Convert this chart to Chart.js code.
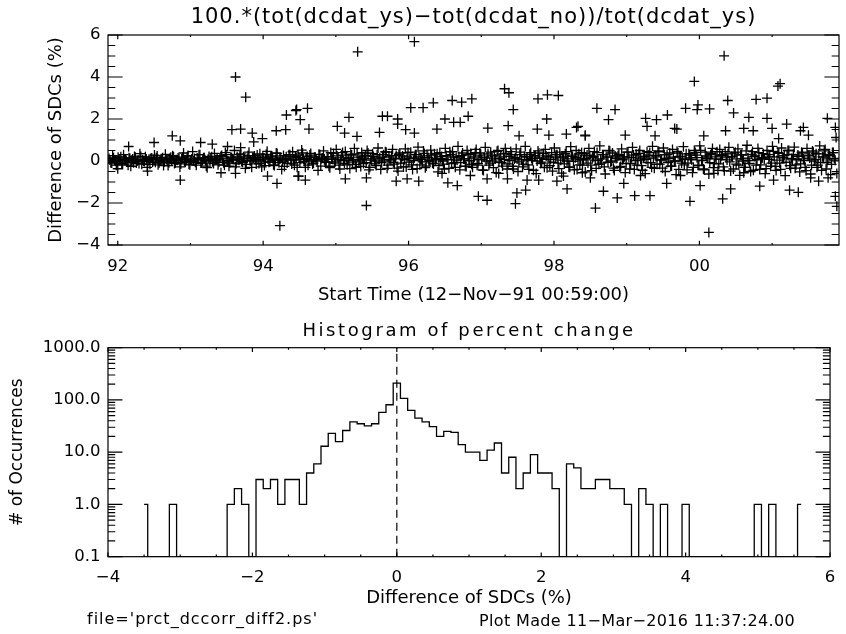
<!DOCTYPE html>
<html>
<head>
<meta charset="utf-8">
<script src="https://cdn.jsdelivr.net/npm/chart.js@4.4.1/dist/chart.umd.min.js"></script>
<style>
  html, body { margin: 0; padding: 0; background: #fff; }
  #wrap { position: relative; width: 846px; height: 634px; }
  canvas { position: absolute; left: 0; }
  #diffChart { top: 0; }
  #histChart { top: 310px; }
</style>
</head>
<body>
<div id="wrap">
  <canvas id="diffChart" width="846" height="310"></canvas>
  <canvas id="histChart" width="846" height="324"></canvas>
</div>
<script>
// ---- top panel: percent difference vs start time (years, 19xx) ----
const timeMajorTicks = [92, 94, 96, 98, 100];
const timeTickLabels = ["92", "94", "96", "98", "00"];
const timeMinorTicks = [93, 95, 97, 99, 101];
const diffMajorTicks = [-4, -2, 0, 2, 4, 6];
const diffTickLabels = ["\u22124", "\u22122", "0", "2", "4", "6"];
const diffMinorTicks = [-3.5, -3, -2.5, -1.5, -1, -0.5, 0.5, 1, 1.5, 2.5, 3, 3.5, 4.5, 5, 5.5];

// regular sampling cadence of the dense band (two interleaved runs)
const sampleStart = 91.88;
const sampleStep = 0.025;
const bandDiffs = [
  0.12,-0.08,0.25,0.05,-0.2,0.18,0.02,-0.12,0.3,0.08,-0.05,0.15,-0.25,0.1,0.22,-0.1,0.05,0.35,-0.15,0.0,
  0.2,-0.3,0.08,0.12,-0.05,0.28,0.15,-0.18,0.02,0.1,-0.22,0.32,0.05,-0.08,0.18,0.25,-0.12,0.06,0.14,-0.28,
  0.1,0.38,-0.06,0.2,-0.15,0.04,0.45,0.12,-0.2,0.08,0.3,-0.1,0.16,0.02,-0.32,0.22,0.1,-0.04,0.36,0.06,
  -0.18,0.14,0.26,-0.08,0.4,0.02,-0.25,0.18,0.1,0.5,-0.12,0.06,0.3,-0.02,0.2,-0.35,0.12,0.42,0.0,0.16,
  0.24,-0.14,0.08,0.34,-0.28,0.15,0.05,0.46,-0.06,0.2,0.12,-0.22,0.38,0.02,0.1,-0.4,0.26,0.08,-0.1,0.3,
  0.05,0.44,-0.2,0.16,0.28,-0.08,0.52,0.1,-0.3,0.22,0.0,0.36,-0.14,0.18,0.06,-0.45,0.3,0.12,0.48,-0.04,
  0.2,-0.25,0.4,0.08,-0.1,0.55,0.15,-0.38,0.28,0.02,0.45,-0.18,0.12,0.32,-0.05,0.6,-0.3,0.18,0.06,0.4,
  -0.12,0.25,0.5,-0.42,0.1,0.35,0.0,-0.22,0.62,0.15,-0.08,0.3,0.44,-0.35,0.2,0.05,0.55,-0.15,0.26,-0.48,
  0.38,0.1,-0.28,0.58,0.2,-0.05,0.42,-0.4,0.15,0.3,0.66,-0.18,0.08,0.48,-0.32,0.24,0.0,0.52,-0.1,0.34,
  0.12,-0.52,0.4,0.22,-0.15,0.6,0.05,-0.35,0.3,0.45,-0.08,0.18,0.7,-0.42,0.26,0.1,-0.25,0.5,0.02,0.36,
  -0.3,0.2,0.55,-0.12,0.38,0.08,-0.45,0.65,0.15,-0.2,0.42,0.0,0.28,-0.55,0.5,0.12,-0.08,0.34,0.6,-0.38,
  0.22,0.45,-0.25,0.1,0.58,-0.5,0.3,0.05,-0.15,0.7,0.18,-0.4,0.4,0.02,0.25,-0.6,0.48,0.14,-0.05,0.36,
  0.55,-0.32,0.2,0.08,-0.48,0.62,0.3,-0.1,0.42,-0.58,0.15,0.35,0.0,-0.28,0.68,0.22,-0.42,0.5,0.1,-0.18,
  0.4,0.05,-0.52,0.28,0.6,-0.2,0.16,0.45,-0.35,0.02,0.72,-0.1,0.3,-0.62,0.2,0.5,-0.05,0.38,-0.45,0.12,
  0.25,-0.3,0.58,0.1,-0.55,0.42,0.18,-0.12,0.65,-0.4,0.32,0.04,0.5,-0.22,0.15,-0.6,0.44,0.28,-0.08,0.7,
  -0.35,0.2,0.48,-0.15,0.06,0.62,-0.5,0.3,0.12,-0.25,0.55,0.0,-0.65,0.38,0.22,-0.1,0.68,0.08,-0.42,0.35,
  0.15,-0.55,0.5,0.28,-0.2,0.72,0.04,-0.38,0.42,0.18,-0.62,0.3,0.6,-0.12,0.1,-0.45,0.55,0.25,-0.28,0.45,
  0.05,0.65,-0.48,0.2,0.38,-0.15,0.58,-0.68,0.3,0.1,-0.3,0.75,0.02,-0.5,0.45,0.22,-0.2,0.6,-0.4,0.12,
  0.35,-0.6,0.5,0.08,-0.25,0.7,0.2,-0.45,0.4,-0.1,0.62,0.15,-0.7,0.3,0.5,-0.35,0.05,0.66,-0.18,0.28,
  -0.52,0.42,0.1,-0.3,0.6,0.24,-0.62,0.48,0.0,0.35,-0.2,0.72,-0.45,0.18,0.55,-0.08,0.32,-0.65,0.4,0.12
];
const bandDiffsB = [
  0.05,-0.1,0.15,0.0,-0.05,0.1,0.2,-0.15,0.08,0.02,-0.2,0.12,0.04,-0.08,0.18,0.0,-0.12,0.22,0.06,-0.02,
  0.1,0.0,-0.16,0.14,0.06,-0.06,0.24,-0.1,0.02,0.16,-0.04,0.08,-0.22,0.12,0.0,0.2,-0.08,0.04,0.1,-0.14,
  0.18,-0.02,0.06,0.26,-0.18,0.1,0.0,-0.06,0.14,0.3,-0.1,0.04,0.16,-0.24,0.08,0.02,0.2,-0.12,0.06,0.12,
  -0.05,0.22,0.1,-0.2,0.3,0.0,-0.1,0.16,0.08,-0.28,0.2,0.04,0.34,-0.06,0.12,-0.16,0.26,0.02,-0.3,0.14,
  0.08,0.28,-0.12,0.0,0.18,-0.22,0.32,0.1,-0.04,0.24,-0.18,0.06,0.36,-0.08,0.14,0.0,-0.26,0.2,0.1,0.3,
  -0.14,0.04,0.22,-0.3,0.16,0.08,0.38,-0.02,0.12,-0.2,0.28,0.06,-0.1,0.18,0.0,0.32,-0.24,0.14,0.06,-0.06,
  0.2,-0.32,0.1,0.36,-0.04,0.24,-0.2,0.06,0.4,-0.12,0.16,0.02,-0.36,0.28,0.08,-0.16,0.34,0.0,-0.26,0.2,
  0.12,-0.08,0.38,-0.3,0.04,0.22,-0.14,0.3,0.1,-0.4,0.18,0.0,0.42,-0.2,0.08,0.26,-0.06,0.14,-0.34,0.32,
  -0.1,0.24,0.06,-0.28,0.4,0.12,-0.18,0.02,0.3,-0.36,0.2,0.1,-0.04,0.36,-0.24,0.16,0.0,0.28,-0.14,0.06,
  0.34,-0.22,0.12,0.0,-0.38,0.26,0.08,0.44,-0.12,0.18,-0.3,0.04,0.22,-0.08,0.38,0.1,-0.26,0.3,0.02,-0.16,
  0.14,0.4,-0.2,0.06,0.28,-0.42,0.18,0.0,0.34,-0.1,0.24,-0.32,0.1,0.46,-0.06,0.2,-0.24,0.08,0.36,-0.14,
  0.02,0.3,-0.38,0.16,0.1,-0.04,0.42,-0.28,0.22,0.06,-0.18,0.32,0.12,-0.44,0.26,0.0,0.38,-0.12,0.14,-0.3,
  0.24,0.08,-0.22,0.4,-0.06,0.18,0.3,-0.36,0.04,0.2,-0.14,0.44,0.1,-0.3,0.28,-0.02,0.16,-0.4,0.34,0.06,
  -0.2,0.36,0.12,-0.1,0.26,-0.46,0.22,0.04,0.4,-0.16,0.1,0.3,-0.28,0.18,-0.06,0.48,0.0,-0.34,0.24,0.14,
  0.32,-0.26,0.06,0.2,-0.12,0.42,-0.38,0.16,0.28,0.02,-0.2,0.36,0.1,-0.44,0.22,0.08,-0.08,0.4,-0.3,0.14,
  0.26,-0.16,0.44,0.04,-0.34,0.3,0.12,-0.06,0.38,-0.24,0.18,0.0,0.46,-0.4,0.2,0.1,-0.18,0.34,-0.1,0.28,
  0.06,-0.3,0.4,0.16,-0.22,0.5,0.02,-0.42,0.24,0.12,-0.08,0.36,-0.32,0.2,0.44,-0.14,0.08,0.3,-0.46,0.18,
  0.34,-0.04,0.22,-0.38,0.42,0.1,-0.2,0.28,0.0,-0.3,0.48,0.14,-0.12,0.32,-0.44,0.24,0.06,0.4,-0.18,0.16,
  0.1,-0.36,0.3,0.2,-0.1,0.46,-0.26,0.04,0.36,-0.4,0.18,0.26,-0.06,0.5,-0.22,0.12,0.32,-0.34,0.08,0.22,
  -0.14,0.38,0.02,-0.46,0.28,0.14,-0.2,0.42,0.08,-0.3,0.34,-0.08,0.2,0.48,-0.38,0.1,0.26,-0.16,0.4,0.04
];

// points away from the band
const outlierTimes = [
  93.62,93.76,94.23,94.32,94.45,93.57,93.69,93.85,94.18,94.31,92.75,92.86,92.86,94.19,94.06,94.48,93.42,93.62,92.41,92.0,
  93.87,93.99,93.14,93.3,92.5,92.15,93.51,93.69,
  96.08,95.30,95.42,94.46,94.61,94.51,94.63,95.02,95.18,95.12,95.29,95.6,95.64,95.71,95.85,95.85,95.96,96.08,96.03,96.2,
  96.34,96.39,96.5,96.6,96.73,96.87,96.62,96.71,96.82,97.09,97.32,97.38,97.44,97.37,97.52,97.78,97.91,98.06,97.9,97.77,
  97.93,98.17,98.31,98.43,96.96,97.08,97.47,97.49,97.61,96.54,96.67,94.49,94.58,95.13,95.42,95.83,95.98,96.14,96.46,96.85,
  97.08,97.24,97.36,97.63,97.79,98.04,98.13,98.18,98.39,
  100.34,99.93,101.08,101.11,100.13,98.57,99.87,100.32,100.43,98.68,98.87,99.11,99.32,101.87,101.89,98.59,98.84,98.75,98.33,98.43,
  99.26,99.41,99.56,99.28,99.66,99.81,99.98,100.14,99.97,100.39,100.47,100.68,100.78,100.93,100.93,101.2,101.43,101.76,101.87,101.88,
  98.98,99.39,99.69,100.06,100.36,100.61,100.74,101.0,101.09,101.39,101.5,98.96,99.55,100.01,100.83,101.02,101.24,101.36,101.64,101.77,
  98.5,99.19,99.74,100.2,100.61,101.53,101.89
];
const outlierDiffs = [
  4.0,3.04,-3.08,2.19,2.4,1.49,1.52,1.33,1.44,1.49,1.2,0.96,-0.91,-1.07,-0.72,-0.72,-0.56,-0.59,-0.48,-0.37,
  0.91,1.07,0.88,0.8,0.88,0.69,0.69,0.64,
  5.68,5.2,-2.12,2.45,2.51,1.97,1.52,1.65,2.08,1.33,1.17,1.36,2.13,2.13,2.0,1.76,1.49,1.33,2.54,2.54,
  2.77,1.52,2.0,2.88,2.8,2.96,1.84,1.84,2.13,1.57,3.44,3.25,2.45,1.68,1.2,2.96,3.15,3.12,2.0,1.52,
  1.23,1.28,1.6,1.23,-1.68,-1.87,-2.03,-1.52,-1.39,-1.04,-1.17,-0.72,-0.91,-0.85,-0.8,-0.96,-0.85,-0.96,-0.59,-0.69,
  -0.85,-0.59,-0.85,-0.91,-0.91,-0.96,-0.72,-1.33,-0.56,
  5.01,3.79,3.57,3.68,-3.4,-2.24,-1.92,-1.8,-1.33,-1.44,-1.76,-1.65,-1.65,-1.68,-2.16,2.51,2.45,1.97,1.65,1.2,
  2.03,1.97,2.19,1.65,1.55,2.51,2.67,2.48,2.45,2.88,2.29,2.08,2.93,2.99,2.03,1.76,1.6,2.03,1.6,1.12,
  1.23,1.2,1.52,1.2,1.44,1.55,1.44,1.55,1.07,1.44,1.23,-1.07,-1.07,-1.17,-1.2,-0.91,-1.39,-1.49,-0.96,-0.8,
  -0.8,-0.69,-0.69,-0.59,-0.56,-0.8,-0.59
];

// ---- bottom panel: histogram of percent change ----
const binCenters = [
  -3.5,-3.4,-3.3,-3.2,-3.1,-3.0,-2.9,-2.8,-2.7,-2.6,
  -2.5,-2.4,-2.3,-2.2,-2.1,-2.0,-1.9,-1.8,-1.7,-1.6,
  -1.5,-1.4,-1.3,-1.2,-1.1,-1.0,-0.9,-0.8,-0.7,-0.6,
  -0.5,-0.4,-0.3,-0.2,-0.1,0.0,0.1,0.2,0.3,0.4,
  0.5,0.6,0.7,0.8,0.9,1.0,1.1,1.2,1.3,1.4,
  1.5,1.6,1.7,1.8,1.9,2.0,2.1,2.2,2.3,2.4,
  2.5,2.6,2.7,2.8,2.9,3.0,3.1,3.2,3.3,3.4,
  3.5,3.6,3.7,3.8,3.9,4.0,4.1,4.2,4.3,4.4,
  4.5,4.6,4.7,4.8,4.9,5.0,5.1,5.2,5.3,5.4,
  5.5,5.6
];
const binCounts = [
  1,0,0,0,1,0,0,0,0,0,
  0,0,1,2,1,0,3,2,3,1,
  3,3,1,4,6,13,23,16,26,38,
  35,32,35,58,81,209,107,63,45,38,
  31,20,25,24,14,10,10,7,11,15,
  4,8,2,4,9,4,4,2,0,6,
  5,2,2,3,3,2,2,1,0,2,
  1,0,1,0,0,1,0,0,0,0,
  0,0,0,0,0,1,0,1,0,0,
  0,1
];
const pctMajorTicks = [-4, -2, 0, 2, 4, 6];
const pctTickLabels = ["\u22124", "\u22122", "0", "2", "4", "6"];
const pctMinorTicks = [-3.5, -3, -2.5, -1.5, -1, -0.5, 0.5, 1, 1.5, 2.5, 3, 3.5, 4.5, 5, 5.5];
const countMajorTicks = [0.1, 1, 10, 100, 1000];
const countTickLabels = ["0.1", "1.0", "10.0", "100.0", "1000.0"];
const countMinorTicks = [0.2,0.3,0.4,0.5,0.6,0.7,0.8,0.9, 2,3,4,5,6,7,8,9, 20,30,40,50,60,70,80,90, 200,300,400,500,600,700,800,900];
const countFloor = 0.1; // empty bins sit on the bottom axis, as in the log plot

const FONT = "'DejaVu Sans', 'Liberation Sans', sans-serif";
Chart.defaults.font.family = FONT;
Chart.defaults.color = "#000";

function tickBuilder(majors, minors) {
    return (scale) => {
        const all = majors.map((v) => ({ value: v, major: true }))
            .concat(minors.map((v) => ({ value: v, major: false })));
        all.sort((a, b) => a.value - b.value);
        scale.ticks = all;
    };
}

function tickLabeler(majors, labels) {
    return (value) => {
        const i = majors.findIndex((m) => Math.abs(m - value) < 1e-9);
        return i >= 0 ? labels[i] : "";
    };
}

// IDL style box: frame plus inward ticks on all four sides
const idlFrame = {
    id: "idlFrame",
    afterDraw(chart) {
        const { ctx, chartArea: a } = chart;
        const xs = chart.scales.x;
        const ys = chart.scales.y;
        const xMajor = a.height * 0.02;
        const yMajor = a.width * 0.02;
        ctx.save();
        ctx.strokeStyle = "#000";
        ctx.lineWidth = 1.2;
        ctx.strokeRect(a.left, a.top, a.right - a.left, a.bottom - a.top);
        ctx.beginPath();
        xs.ticks.forEach((t) => {
            const px = xs.getPixelForValue(t.value);
            const len = t.major ? xMajor : xMajor / 2;
            ctx.moveTo(px, a.bottom);
            ctx.lineTo(px, a.bottom - len);
            ctx.moveTo(px, a.top);
            ctx.lineTo(px, a.top + len);
        });
        ys.ticks.forEach((t) => {
            const py = ys.getPixelForValue(t.value);
            const len = t.major ? yMajor : yMajor / 2;
            ctx.moveTo(a.left, py);
            ctx.lineTo(a.left + len, py);
            ctx.moveTo(a.right, py);
            ctx.lineTo(a.right - len, py);
        });
        ctx.stroke();
        ctx.restore();
    },
};

// plot titles and footer notes, drawn with the wider letter spacing of the IDL font
const idlText = {
    id: "idlText",
    afterDraw(chart, args, opts) {
        const { ctx, chartArea: a } = chart;
        ctx.save();
        ctx.fillStyle = "#000";
        ctx.textBaseline = "middle";
        (opts.items || []).forEach((it) => {
            ctx.font = it.size + "px " + FONT;
            ctx.letterSpacing = (it.spacing || 0) + "px";
            ctx.textAlign = it.align || "left";
            const x = it.x === "center" ? (a.left + a.right) / 2 : it.x;
            ctx.fillText(it.text, x, it.y);
        });
        ctx.restore();
    },
};

const crossStyle = {
    pointStyle: "cross",
    pointRadius: 5,
    pointHoverRadius: 5,
    borderColor: "#000",
    backgroundColor: "#000",
    borderWidth: 1.3,
    showLine: false,
};

new Chart(document.getElementById("diffChart"), {
    type: "scatter",
    data: {
        datasets: [
            {
                label: "band",
                data: bandDiffs.map((d, i) => ({ x: sampleStart + i * sampleStep, y: d })),
                ...crossStyle,
            },
            {
                label: "band b",
                data: bandDiffsB.map((d, i) => ({ x: sampleStart + (i + 0.5) * sampleStep, y: d })),
                ...crossStyle,
            },
            {
                label: "outliers",
                data: outlierTimes.map((t, i) => ({ x: t, y: outlierDiffs[i] })),
                ...crossStyle,
            },
        ],
    },
    options: {
        responsive: false,
        animation: false,
        events: [],
        layout: { padding: { left: 0, right: 7, top: 35, bottom: 0 } },
        plugins: {
            legend: { display: false },
            tooltip: { enabled: false },
            idlText: {
                items: [
                    { text: "100.*(tot(dcdat_ys)\u2212tot(dcdat_no))/tot(dcdat_ys)", x: "center", y: 18, size: 21, spacing: 1, align: "center" },
                ],
            },
        },
        scales: {
            x: {
                type: "linear",
                min: 91.866,
                max: 101.92,
                grid: { display: false, drawTicks: false },
                border: { display: false },
                afterBuildTicks: tickBuilder(timeMajorTicks, timeMinorTicks),
                afterFit: (s) => { s.height = 65; },
                ticks: {
                    autoSkip: false,
                    maxRotation: 0,
                    padding: 11.4,
                    font: { size: 16.5 },
                    callback: tickLabeler(timeMajorTicks, timeTickLabels),
                },
                title: {
                    display: true,
                    text: "Start Time (12\u2212Nov\u221291 00:59:00)",
                    font: { size: 18 },
                    padding: { top: 0, bottom: 4.2 },
                },
            },
            y: {
                min: -4,
                max: 6,
                grid: { display: false, drawTicks: false },
                border: { display: false },
                afterBuildTicks: tickBuilder(diffMajorTicks, diffMinorTicks),
                afterFit: (s) => { s.width = 108; },
                ticks: {
                    autoSkip: false,
                    padding: 7.5,
                    font: { size: 16.5 },
                    callback: tickLabeler(diffMajorTicks, diffTickLabels),
                },
                title: {
                    display: true,
                    text: "Difference of SDCs (%)",
                    font: { size: 18 },
                    padding: { top: 45.2, bottom: 0 },
                },
            },
        },
    },
    plugins: [idlFrame, idlText],
});

new Chart(document.getElementById("histChart"), {
    type: "line",
    data: {
        datasets: [
            {
                label: "counts",
                data: binCenters.map((c, i) => ({ x: c, y: Math.max(binCounts[i], countFloor) })),
                stepped: "middle",
                borderColor: "#000",
                borderWidth: 1.3,
                pointRadius: 0,
                fill: false,
            },
            {
                label: "zero",
                data: [{ x: 0, y: 0.1 }, { x: 0, y: 1000 }],
                borderColor: "#000",
                borderWidth: 1.2,
                borderDash: [8, 5],
                pointRadius: 0,
                fill: false,
            },
        ],
    },
    options: {
        responsive: false,
        animation: false,
        events: [],
        layout: { padding: { left: 0, right: 7, top: 37.7, bottom: 0 } },
        plugins: {
            legend: { display: false },
            tooltip: { enabled: false },
            idlText: {
                items: [
                    { text: "Histogram of percent change", x: "center", y: 21, size: 18, spacing: 2.6, align: "center" },
                    { text: "file='prct_dccorr_diff2.ps'", x: 87, y: 310, size: 16, spacing: 1 },
                    { text: "Plot Made 11\u2212Mar\u22122016 11:37:24.00", x: 479, y: 312, size: 16, spacing: 0.35 },
                ],
            },
        },
        scales: {
            x: {
                type: "linear",
                min: -4,
                max: 6,
                grid: { display: false, drawTicks: false },
                border: { display: false },
                afterBuildTicks: tickBuilder(pctMajorTicks, pctMinorTicks),
                afterFit: (s) => { s.height = 77.3; },
                ticks: {
                    autoSkip: false,
                    maxRotation: 0,
                    padding: 10.7,
                    font: { size: 16.5 },
                    callback: tickLabeler(pctMajorTicks, pctTickLabels),
                },
                title: {
                    display: true,
                    text: "Difference of SDCs (%)",
                    font: { size: 18 },
                    padding: { top: 0, bottom: 25.2 },
                },
            },
            y: {
                type: "logarithmic",
                min: 0.1,
                max: 1000,
                grid: { display: false, drawTicks: false },
                border: { display: false },
                afterBuildTicks: tickBuilder(countMajorTicks, countMinorTicks),
                afterFit: (s) => { s.width = 108; },
                ticks: {
                    autoSkip: false,
                    padding: 7.5,
                    font: { size: 16.5 },
                    callback: tickLabeler(countMajorTicks, countTickLabels),
                },
                title: {
                    display: true,
                    text: "# of Occurrences",
                    font: { size: 17 },
                    padding: { top: 7.3, bottom: 0 },
                },
            },
        },
    },
    plugins: [idlFrame, idlText],
});
</script>
</body>
</html>
